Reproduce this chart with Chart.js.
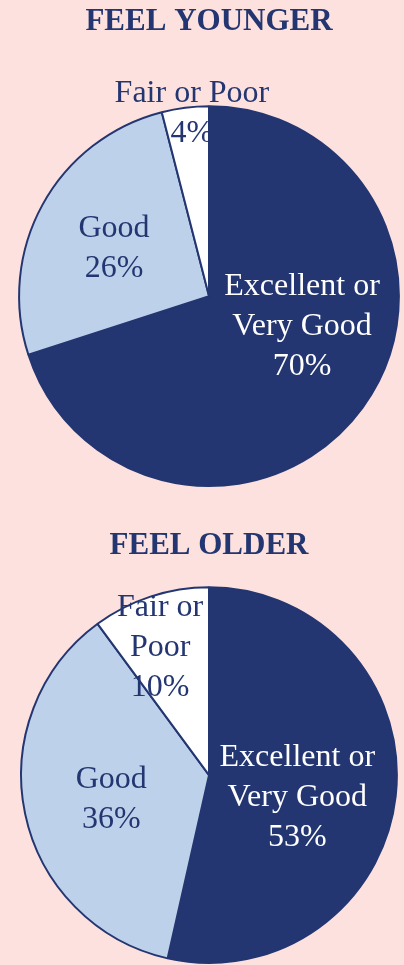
<!DOCTYPE html>
<html>
<head>
<meta charset="utf-8">
<script src="https://cdn.jsdelivr.net/npm/chart.js@4"></script>
<style>
  html, body { margin: 0; padding: 0; background: #fde1de; }
  .wrap { width: 404px; position: relative; }
  #box1 { height: 500px; }
  #box2 { height: 465px; }
</style>
</head>
<body>
<div class="wrap" id="box1"><canvas id="youngerChart"></canvas></div>
<div class="wrap" id="box2"><canvas id="olderChart"></canvas></div>
<script>
const categories = ['Excellent or\nVery Good', 'Good', 'Fair or Poor'];
const olderCategories = ['Excellent or\nVery Good', 'Good', 'Fair or\nPoor'];
const youngerValues = [70, 26, 4];
const olderValues = [53, 36, 10];

const NAVY = '#233671';
const LIGHT = '#bed1ea';
const WHITE = '#ffffff';
const FONT = '"Liberation Serif", "Times New Roman", serif';

// label block centre, relative to pie centre, in units of the radius
const youngerSpots = [[0.49, 0.16], [-0.50, -0.25], [-0.09, -0.96]];
const olderSpots = [[0.47, 0.12], [-0.52, 0.13], [-0.26, -0.68]];

const sliceLabels = {
    id: 'sliceLabels',
    afterDatasetsDraw(chart, args, opts) {
        const ctx = chart.ctx;
        const meta = chart.getDatasetMeta(0);
        const data = chart.data.datasets[0].data;
        ctx.save();
        ctx.font = '32px ' + FONT;
        ctx.textAlign = 'center';
        ctx.textBaseline = 'middle';
        meta.data.forEach((arc, i) => {
            const r = arc.outerRadius;
            const cx = arc.x + opts.spots[i][0] * r;
            const cy = arc.y + opts.spots[i][1] * r;
            const lines = chart.data.labels[i].split('\n').concat(data[i] + '%');
            const lh = 40;
            ctx.fillStyle = i === 0 ? '#ffffff' : NAVY;
            lines.forEach((t, j) => {
                ctx.fillText(t, cx, cy + (j - (lines.length - 1) / 2) * lh);
            });
        });
        ctx.restore();
    }
};

function makePie(id, title, labels, values, spots, padding, titlePad) {
    const ctx = document.getElementById(id).getContext('2d');
    return new Chart(ctx, {
        type: 'pie',
        data: {
            labels: labels,
            datasets: [{
                data: values,
                backgroundColor: [NAVY, LIGHT, WHITE],
                borderColor: NAVY,
                borderWidth: 2
            }]
        },
        options: {
            responsive: true,
            maintainAspectRatio: false,
            animation: false,
            layout: { padding: padding },
            plugins: {
                legend: { display: false },
                tooltip: { enabled: false },
                title: {
                    display: true,
                    text: title,
                    color: NAVY,
                    font: { family: FONT, size: 31, weight: 'bold', lineHeight: 1.2 },
                    padding: titlePad
                },
                sliceLabels: { spots: spots }
            }
        },
        plugins: [sliceLabels]
    });
}

makePie('youngerChart', 'FEEL YOUNGER', categories, youngerValues, youngerSpots,
    { left: 18, right: 4, top: 0, bottom: 13 }, { top: 3, bottom: 65 });
makePie('olderChart', 'FEEL OLDER', olderCategories, olderValues, olderSpots,
    { left: 20, right: 6, top: 0, bottom: 1 }, { top: 27, bottom: 22 });
</script>
</body>
</html>
